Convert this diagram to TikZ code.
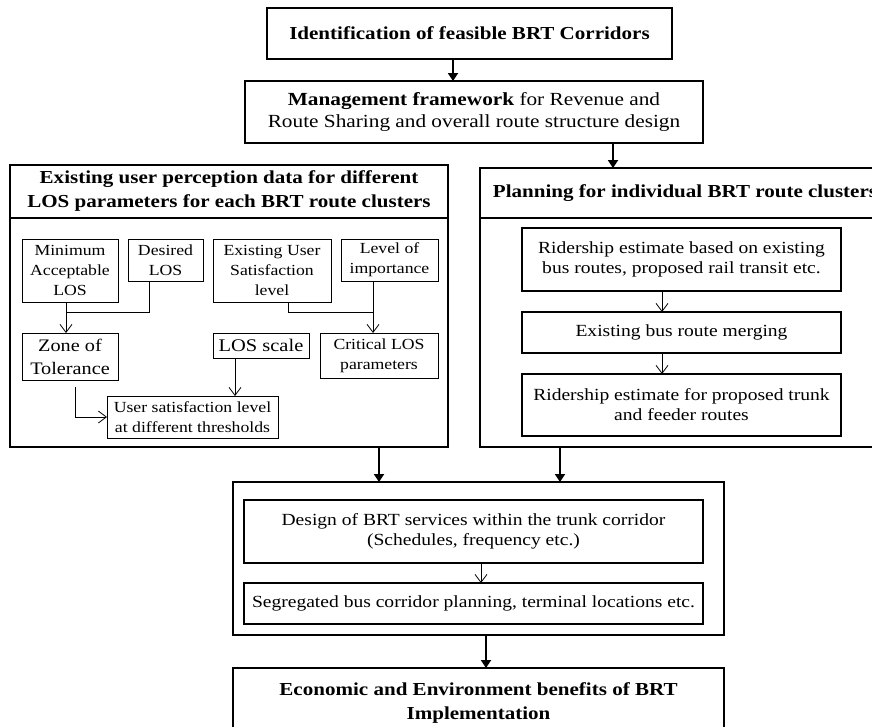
\documentclass[tikz,border=0pt]{standalone}
\usepackage{fontspec}
\setmainfont{Liberation Serif}[FakeStretch=1.15]
\usetikzlibrary{positioning,arrows.meta,calc}

\begin{document}
\begin{tikzpicture}[x=1pt,y=-1pt,
    every node/.style={inner sep=0,outer sep=0,align=center},
    heavybox/.style={draw,line width=1.6pt},
    lightbox/.style={draw,line width=0.8pt},
    bigarrow/.style={line width=1.8pt,-{Triangle[length=8pt,width=10pt]}},
    smallarrow/.style={line width=0.8pt,-{Straight Barb[length=8pt,width=12pt]}},
    smallline/.style={line width=0.8pt},
    headfont/.style={font=\fontsize{18.3}{24}\selectfont\bfseries},
    bodyfont/.style={font=\fontsize{17}{20}\selectfont},
    smallfont/.style={font=\fontsize{15.4}{20}\selectfont}]

    \useasboundingbox (0,0) rectangle (872,726);

    % top of the chart
    \node (top) [heavybox,headfont,minimum width=405,minimum height=51] at (469.5,33.5) {Identification of feasible BRT Corridors};
    \node (mgmt) [heavybox,font=\fontsize{18.5}{22}\selectfont,minimum width=458,minimum height=62] at (474,112)
        {\textbf{Management framework} for Revenue and\\Route Sharing and overall route structure design};

    % left panel
    \node (lpanel) [heavybox,minimum width=438,minimum height=282] at (229,306) {};
    \node (lhead) [headfont,minimum width=438,minimum height=53] at (229,191.5)
        {Existing user perception data for different\\LOS parameters for each BRT route clusters};
    \draw[line width=1.6pt] (lhead.south west) -- (lhead.south east);

    \node (minlos) [lightbox,smallfont,minimum width=96,minimum height=63] at (70,270.5) {Minimum\\Acceptable\\LOS};
    \node (desired) [lightbox,smallfont,minimum width=75,minimum height=42] at (165.5,260) {Desired\\LOS};
    \node (eus) [lightbox,smallfont,minimum width=118,minimum height=63] at (272,270.5) {Existing User\\Satisfaction\\level};
    \node (importance) [lightbox,smallfont,minimum width=97,minimum height=42] at (389.5,260) {Level of\\importance};
    \node (zone) [lightbox,font=\fontsize{17.6}{23}\selectfont,minimum width=96,minimum height=47] at (70,356.5) {Zone of\\Tolerance};
    \node (losscale) [lightbox,font=\fontsize{17.8}{20}\selectfont,minimum width=96,minimum height=25] at (261,345.5) {LOS scale};
    \node (critical) [lightbox,smallfont,minimum width=118,minimum height=45] at (379,355.5) {Critical LOS\\parameters};
    \node (usersat) [lightbox,smallfont,minimum width=171,minimum height=42] at (192.5,417) {User satisfaction level\\at different thresholds};

    % right panel
    \node (rpanel) [heavybox,minimum width=410,minimum height=279] at (685,307.5) {};
    \node (rhead) [headfont,minimum width=410,minimum height=50] at (685,193) {Planning for individual BRT route clusters};
    \draw[line width=1.6pt] (rhead.south west) -- (rhead.south east);

    \node (rider1) [heavybox,bodyfont,minimum width=319,minimum height=63] at (681.5,259.5)
        {Ridership estimate based on existing\\bus routes, proposed rail transit etc.};
    \node (merging) [heavybox,bodyfont,minimum width=319,minimum height=41,below=21pt of rider1] {Existing bus route merging};
    \node (rider2) [heavybox,bodyfont,minimum width=319,minimum height=62,below=21pt of merging]
        {Ridership estimate for proposed trunk\\and feeder routes};

    % trunk corridor block
    \node (outer) [heavybox,minimum width=491,minimum height=153] at (478.5,558.5) {};
    \node (design) [heavybox,bodyfont,minimum width=459,minimum height=63] at (473.5,531.5)
        {Design of BRT services within the trunk corridor\\(Schedules, frequency etc.)};
    \node (segregated) [heavybox,bodyfont,minimum width=459,minimum height=41] at (473.5,603.5)
        {Segregated bus corridor planning, terminal locations etc.};

    \node (econ) [heavybox,headfont,minimum width=491,minimum height=70] at (478.5,703)
        {Economic and Environment benefits of BRT\\Implementation};

    % where the connectors run
    \coordinate (xa) at (453,0);
    \coordinate (xb) at (613,0);
    \coordinate (xc) at (379,0);
    \coordinate (xd) at (560,0);
    \coordinate (xe) at (486,0);
    \coordinate (xf) at (481,0);
    \coordinate (xg) at (662,0);
    \coordinate (xh) at (149,0);
    \coordinate (xi) at (288,0);
    \coordinate (xk) at (235,0);
    \coordinate (j1) at (66,312);
    \coordinate (j2) at (373,312);
    \coordinate (j3) at (75,387);

    \draw[bigarrow] (top.south -| xa) -- (mgmt.north -| xa);
    \draw[bigarrow] (mgmt.south -| xb) -- (rpanel.north -| xb);
    \draw[bigarrow] (lpanel.south -| xc) -- (outer.north -| xc);
    \draw[bigarrow] (rpanel.south -| xd) -- (outer.north -| xd);
    \draw[bigarrow] (outer.south -| xe) -- (econ.north -| xe);

    \draw[smallarrow] (design.south -| xf) -- (segregated.north -| xf);
    \draw[smallarrow] (rider1.south -| xg) -- (merging.north -| xg);
    \draw[smallarrow] (merging.south -| xg) -- (rider2.north -| xg);

    \draw[smallline] (desired.south -| xh) |- (j1);
    \draw[smallarrow] (minlos.south -| j1) -- (zone.north -| j1);
    \draw[smallline] (eus.south -| xi) |- (j2);
    \draw[smallarrow] (importance.south -| j2) -- (critical.north -| j2);
    \draw[smallarrow] (losscale.south -| xk) -- (usersat.north -| xk);
    \draw[smallarrow] (j3) |- (usersat.west);

\end{tikzpicture}
\end{document}
